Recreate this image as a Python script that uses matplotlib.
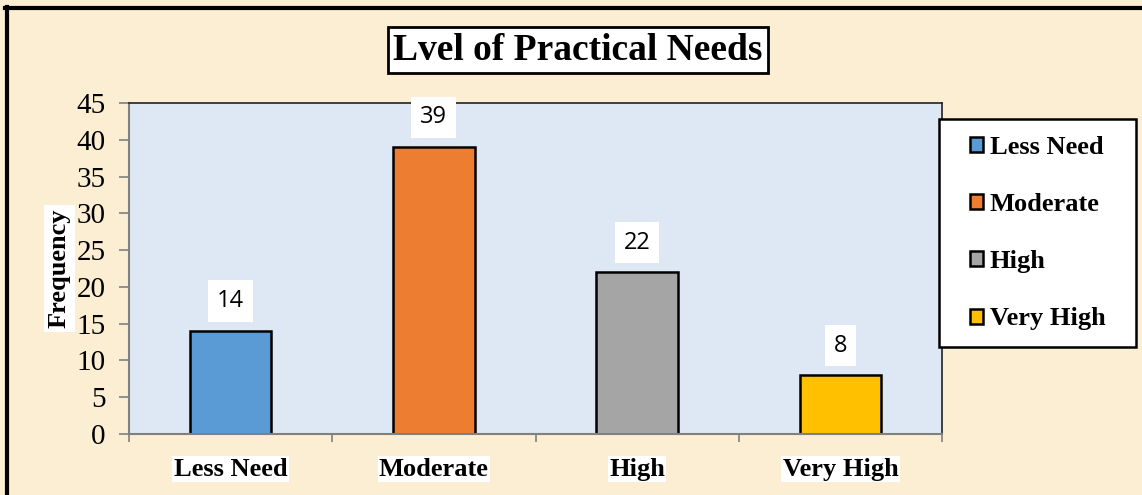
import matplotlib
matplotlib.use("Agg")
import matplotlib.pyplot as plt
from matplotlib.patches import Rectangle, Patch
from matplotlib.lines import Line2D

categories = ["Less Need", "Moderate", "High", "Very High"]
frequency = [14, 39, 22, 8]
colors = ["#5B9BD5", "#ED7D31", "#A5A5A5", "#FFC000"]
yticks = [0, 5, 10, 15, 20, 25, 30, 35, 40, 45]

W, H = 1142, 495
fig = plt.figure(figsize=(W / 100, H / 100), dpi=100)
fig.patch.set_facecolor("#FCEED2")

serif = "Liberation Serif"

# outer frame (top and left visible)
fig.add_artist(Line2D([6.5 / W, 6.5 / W], [0, 1 - 7 / H], transform=fig.transFigure,
                      color="black", lw=3))
fig.add_artist(Line2D([5 / W, 1], [1 - 7.5 / H, 1 - 7.5 / H], transform=fig.transFigure,
                      color="black", lw=3))

ax = fig.add_axes([129 / W, (H - 434) / H, (942 - 129) / W, (434 - 103) / H])
ax.set_facecolor("#DDE8F4")

x = range(len(categories))
bars = ax.bar(x, frequency, width=0.4, color=colors, edgecolor="black", linewidth=1.8,
              label=categories)

for xi, v in zip(x, frequency):
    ax.text(xi, v + 2.4, str(v), ha="center", va="bottom", fontsize=17,
            family="Open Sans",
            bbox=dict(facecolor="white", edgecolor="none", pad=6.5))

ax.set_xlim(-0.5, 3.5)
ax.set_ylim(0, 45)
ax.set_yticks(yticks)
ax.set_yticklabels([str(t) for t in yticks], family=serif, fontsize=21)
ax.set_xticks([-0.5, 0.5, 1.5, 2.5, 3.5])
ax.set_xticklabels([])
ax.set_xticks(list(x), minor=True)
ax.set_xticklabels(categories, minor=True, family=serif, fontsize=19, fontweight="bold")
for lab in ax.get_xticklabels(minor=True):
    lab.set_bbox(dict(facecolor="white", edgecolor="none", pad=1))
ax.tick_params(axis="x", which="minor", length=0, pad=17)
ax.tick_params(axis="x", which="major", length=6, color="#808080", width=1.2)
ax.tick_params(axis="y", length=7, color="#808080", width=1.2, pad=10)

for s in ["left", "bottom"]:
    ax.spines[s].set_color("#808080")
    ax.spines[s].set_linewidth(1.5)
for s in ["top", "right"]:
    ax.spines[s].set_color("#222222")
    ax.spines[s].set_linewidth(1.2)

ax.set_ylabel("Frequency", family=serif, fontsize=19, fontweight="bold",
              bbox=dict(facecolor="white", edgecolor="none", pad=3))
ax.yaxis.set_label_coords((71 - 129) / (942 - 129), 0.5)

fig.text(578 / W, 1 - 50 / H, "Lvel of Practical Needs", ha="center", va="center",
         family=serif, fontsize=27, fontweight="bold",
         bbox=dict(facecolor="white", edgecolor="black", linewidth=2, pad=4))

# legend box
lx0, lx1, ly0, ly1 = 939, 1136, 119, 347
fig.add_artist(Rectangle((lx0 / W, 1 - ly1 / H), (lx1 - lx0) / W, (ly1 - ly0) / H,
                         transform=fig.transFigure, facecolor="white",
                         edgecolor="black", linewidth=1.8))
handles = [Patch(facecolor=c, edgecolor="black", linewidth=1.8) for c in colors]
leg = fig.legend(handles, categories, loc="center",
                 bbox_to_anchor=((lx0 + lx1) / 2 / W, 1 - (ly0 + ly1) / 2 / H),
                 frameon=False,
                 prop=dict(family=serif, size=19, weight="bold"),
                 handlelength=0.5, handleheight=0.5, handletextpad=0.25,
                 labelspacing=1.3, borderpad=0, borderaxespad=0)
leg.set_zorder(5)

fig.savefig("out.png", dpi=100, facecolor=fig.get_facecolor())
